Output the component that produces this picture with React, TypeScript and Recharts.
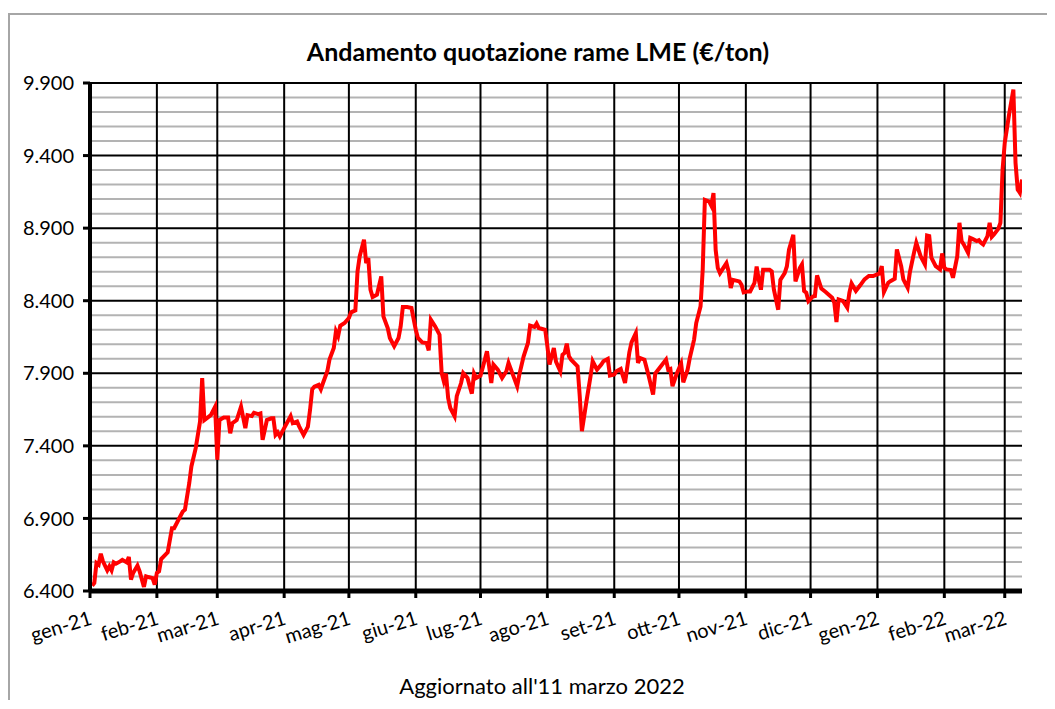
import React from "react";
import { LineChart, Line, XAxis, YAxis, CartesianGrid } from "recharts";

// Day offsets from 1 Jan 2021 and LME copper price (EUR/ton)
const days: number[] = [
  1, 2, 3, 4, 5, 6, 8, 9, 10, 11, 12, 14, 15, 17, 18, 19, 20, 22, 23, 25, 26, 27, 29, 30, 31, 32, 33, 36, 38, 39,
  41, 43, 44, 46, 47, 49, 51, 52, 53, 56, 58, 59, 60, 62, 64, 65, 66, 68, 69, 70, 72, 73, 75, 76, 78, 79, 80, 82, 84, 85,
  86, 87, 88, 90, 93, 94, 96, 97, 99, 101, 102, 103, 104, 106, 107, 108, 110, 111, 113, 114, 115, 116, 118, 120, 121, 123, 124, 125, 127, 128,
  129, 130, 131, 133, 135, 136, 138, 139, 141, 143, 144, 145, 147, 149, 151, 152, 154, 156, 157, 158, 160, 162, 163, 164, 165, 166, 167, 169, 170, 172,
  173, 175, 176, 177, 178, 179, 181, 182, 184, 185, 186, 187, 189, 191, 193, 194, 196, 198, 199, 201, 203, 204, 206, 207, 208, 211, 212, 213, 215, 216,
  218, 219, 220, 221, 222, 223, 226, 227, 228, 230, 232, 233, 235, 237, 238, 240, 241, 243, 244, 246, 248, 250, 251, 253, 254, 255, 257, 259, 261, 262,
  264, 267, 268, 269, 270, 272, 274, 275, 277, 278, 280, 281, 283, 284, 285, 287, 288, 289, 290, 291, 292, 295, 296, 297, 298, 301, 302, 303, 305, 306,
  308, 309, 310, 311, 312, 315, 316, 317, 319, 320, 322, 323, 324, 326, 327, 329, 330, 331, 332, 333, 335, 336, 337, 339, 341, 344, 345, 346, 347, 349,
  351, 352, 353, 355, 357, 359, 361, 363, 366, 367, 368, 370, 371, 373, 374, 376, 377, 379, 380, 382, 383, 385, 387, 388, 389, 390, 392, 394, 395, 396,
  397, 399, 400, 402, 403, 404, 405, 407, 408, 409, 411, 412, 413, 414, 416, 417, 418, 419, 421, 422, 423, 424, 426, 428, 429, 430, 431, 432,
];

const prices: number[] = [
  6437, 6455, 6593, 6581, 6657, 6604, 6542, 6570, 6542, 6597, 6588, 6604, 6615, 6597, 6634, 6478, 6524, 6575, 6535, 6428, 6501, 6496, 6489, 6443, 6524, 6535, 6620, 6666, 6833, 6833,
  6891, 6948, 6960, 7143, 7258, 7384, 7567, 7866, 7578, 7612, 7670, 7304, 7578, 7595, 7595, 7487, 7556, 7578, 7624, 7670, 7522, 7612, 7605, 7628, 7619, 7624, 7441, 7578, 7590, 7590,
  7476, 7493, 7465, 7522, 7605, 7556, 7567, 7533, 7476, 7533, 7648, 7790, 7808, 7820, 7790, 7833, 7914, 7994, 8074, 8189, 8155, 8228, 8246, 8281, 8320, 8333, 8602, 8705, 8820, 8659,
  8694, 8476, 8425, 8441, 8567, 8292, 8212, 8143, 8086, 8143, 8223, 8356, 8356, 8350, 8200, 8143, 8113, 8109, 8058, 8269, 8223, 8166, 7902, 7845, 7898, 7730, 7661, 7604, 7742, 7833,
  7902, 7868, 7811, 7760, 7898, 7868, 7884, 7937, 8051, 7948, 7833, 7960, 7925, 7868, 7914, 7971, 7891, 7811, 7891, 8017, 8109, 8228, 8219, 8242, 8212, 8200, 8086, 7960, 8074, 7980,
  7914, 8028, 8040, 8104, 8017, 7994, 7948, 7742, 7501, 7696, 7879, 7983, 7925, 7960, 7983, 7999, 7884, 7891, 7914, 7930, 7833, 8044, 8113, 8177, 7971, 8005, 7994, 7879, 7753, 7898,
  7937, 7994, 7925, 7930, 7811, 7898, 7966, 7838, 7925, 8005, 8132, 8246, 8361, 8613, 9095, 9083, 9054, 9141, 8751, 8625, 8590, 8659, 8602, 8487, 8544, 8533, 8510, 8457, 8464, 8464,
  8522, 8636, 8544, 8476, 8613, 8613, 8602, 8476, 8338, 8544, 8590, 8636, 8751, 8854, 8533, 8625, 8650, 8467, 8455, 8398, 8428, 8432, 8574, 8483, 8460, 8421, 8386, 8253, 8409, 8398,
  8352, 8455, 8519, 8467, 8506, 8547, 8570, 8570, 8588, 8638, 8460, 8524, 8535, 8551, 8753, 8638, 8547, 8489, 8593, 8735, 8799, 8707, 8650, 8849, 8845, 8696, 8638, 8616, 8726, 8627,
  8616, 8611, 8558, 8707, 8937, 8811, 8788, 8730, 8833, 8827, 8811, 8817, 8799, 8788, 8845, 8937, 8840, 8856, 8895, 8937, 9304, 9487, 9682, 9854, 9350, 9166, 9143, 9235,
];

const monthTicks: number[] = [0, 31, 59, 90, 120, 151, 181, 212, 243, 273, 304, 334, 365, 396, 424];
const monthLabels: string[] = [
  "gen-21", "feb-21", "mar-21", "apr-21", "mag-21", "giu-21", "lug-21", "ago-21", "set-21", "ott-21", "nov-21", "dic-21", "gen-22", "feb-22", "mar-22",
];
const majorTicks: number[] = [6400, 6900, 7400, 7900, 8400, 8900, 9400, 9900];
const minorTicks: number[] = [
  6500, 6600, 6700, 6800, 7000, 7100, 7200, 7300, 7500, 7600, 7700, 7800, 8000, 8100, 8200, 8300,
  8500, 8600, 8700, 8800, 9000, 9100, 9200, 9300, 9500, 9600, 9700, 9800,
];

const title = "Andamento quotazione rame LME (€/ton)";
const footer = "Aggiornato all'11 marzo 2022";

const data = days.map((d, i) => ({ day: d, price: prices[i] }));

const fmt = (v: number) => {
  const s = String(v);
  return s.length > 3 ? s.slice(0, s.length - 3) + "." + s.slice(s.length - 3) : s;
};

const FONT = "Lato, 'Open Sans', sans-serif";

const XTick = (props: any) => {
  const { x, y, payload } = props;
  const idx = monthTicks.indexOf(payload.value);
  const label = idx >= 0 ? monthLabels[idx] : "";
  const ax = x + 3;
  const ay = y + 24;
  return (
    <text
      x={ax}
      y={ay}
      textAnchor="end"
      transform={`rotate(-17, ${ax}, ${ay})`}
      fontSize={20}
      fontFamily={FONT}
      fill="#000"
    >
      {label}
    </text>
  );
};

export default function App() {
  return (
    <div style={{ position: "relative", width: 1047, height: 692, overflow: "hidden", fontFamily: FONT, background: "#fff" }}>
      <div
        style={{
          position: "absolute",
          left: 0,
          top: 5,
          width: 1120,
          height: 800,
          border: "2px solid #a6a6a6",
          boxSizing: "border-box",
        }}
      />
      <div
        style={{
          position: "absolute",
          left: 0,
          top: 28,
          width: 1060,
          textAlign: "center",
          fontWeight: 700,
          fontSize: 25,
          lineHeight: "30px",
          color: "#000",
        }}
      >
        {title}
      </div>
      <div
        style={{
          position: "absolute",
          left: 0,
          top: 665,
          width: 1068,
          textAlign: "center",
          fontSize: 22,
          lineHeight: "26px",
          color: "#000",
        }}
      >
        {footer}
      </div>
      <div style={{ position: "absolute", left: 0, top: 0 }}>
        <LineChart width={1047} height={692} data={data} margin={{ top: 75, right: 33, left: 10, bottom: 49 }}>
          <CartesianGrid horizontal={true} vertical={false} horizontalValues={minorTicks} stroke="#b3b3b3" strokeWidth={2} />
          <CartesianGrid
            horizontal={true}
            vertical={true}
            horizontalValues={majorTicks}
            verticalValues={monthTicks}
            stroke="#000"
            strokeWidth={2}
          />
          <XAxis
            type="number"
            dataKey="day"
            domain={[0, 432]}
            ticks={monthTicks}
            interval={0}
            height={60}
            tick={<XTick />}
            tickSize={7}
            tickLine={{ stroke: "#000", strokeWidth: 3 }}
            axisLine={{ stroke: "#000", strokeWidth: 5 }}
            allowDataOverflow
          />
          <YAxis
            type="number"
            domain={[6400, 9900]}
            ticks={majorTicks}
            interval={0}
            width={72}
            tickFormatter={fmt}
            tickSize={7}
            tickMargin={9}
            tick={{ fill: "#000", fontSize: 20, fontFamily: FONT }}
            tickLine={{ stroke: "#000", strokeWidth: 3 }}
            axisLine={{ stroke: "#000", strokeWidth: 4 }}
            allowDataOverflow
          />
          <Line
            type="linear"
            dataKey="price"
            stroke="#ff0000"
            strokeWidth={4}
            dot={false}
            activeDot={false}
            isAnimationActive={false}
          />
        </LineChart>
      </div>
    </div>
  );
}
